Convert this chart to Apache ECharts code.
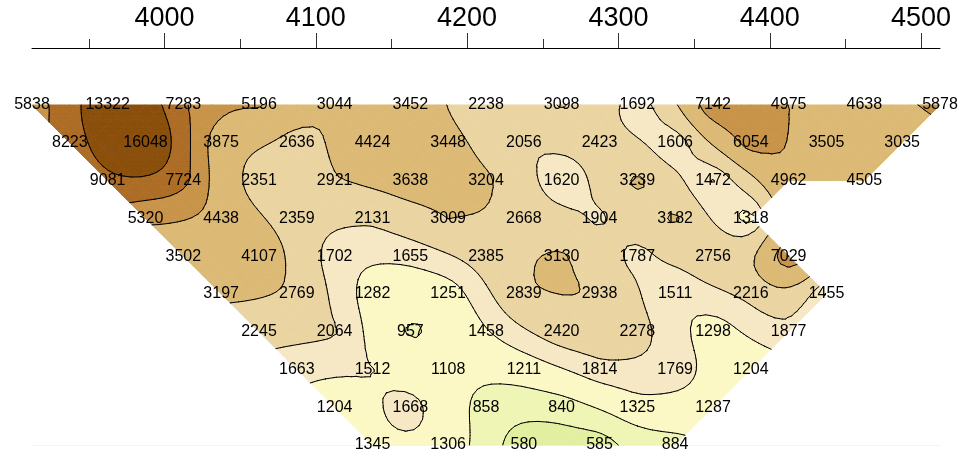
<!DOCTYPE html>
<html>
<head>
<meta charset="utf-8">
<style>
  html, body { margin: 0; padding: 0; background: #fff; }
  #chart { width: 962px; height: 459px; }
</style>
<script src="https://cdn.jsdelivr.net/npm/echarts@6.0.0/dist/echarts.min.js"></script>
</head>
<body>
<div id="chart"></div>
<script>
// first station of each pseudosection row (n = 1..10), stations every 50
const rowStart = [3912.5, 3937.5, 3962.5, 3987.5, 4012.5, 4037.5, 4062.5, 4087.5, 4112.5, 4137.5]
const row1 = [5838, 13322, 7283, 5196, 3044, 3452, 2238, 3098, 1692, 7142, 4975, 4638, 5878]
const row2 = [8223, 16048, 3875, 2636, 4424, 3448, 2056, 2423, 1606, 6054, 3505, 3035]
const row3 = [9081, 7724, 2351, 2921, 3638, 3204, 1620, 3239, 1472, 4962, 4505]
const row4 = [5320, 4438, 2359, 2131, 3009, 2668, 1904, 3182, 1318]
const row5 = [3502, 4107, 1702, 1655, 2385, 3130, 1787, 2756, 7029]
const row6 = [3197, 2769, 1282, 1251, 2839, 2938, 1511, 2216, 1455]
const row7 = [2245, 2064, 957, 1458, 2420, 2278, 1298, 1877]
const row8 = [1663, 1512, 1108, 1211, 1814, 1769, 1204]
const row9 = [1204, 1668, 858, 840, 1325, 1287]
const row10 = [1345, 1306, 580, 585, 884]

const levels = [700, 1000, 1500, 2000, 3000, 5000, 7000, 10000]
const bandColors = ['#e3efa0', '#eff5b5', '#fcf8c5', '#f7e8c5', '#ead5a2', '#dcba76', '#c8944a', '#ad6d26', '#8b4f0c']
const majorTicks = [4000, 4100, 4200, 4300, 4400, 4500]
const minorTicks = [3950, 4050, 4150, 4250, 4350, 4450]

const rows = [row1, row2, row3, row4, row5, row6, row7, row8, row9, row10]
const pt = (r, k) => (k < rows[r].length ? [rowStart[r] + 50 * k, r + 1, rows[r][k]] : null)

const points = []
rows.forEach((vals, r) => vals.forEach((v, k) => points.push(pt(r, k))))

// triangles between neighbouring rows (each row is offset by half a station)
const triangles = []
for (let r = 0; r < rows.length - 1; r++) {
  for (let j = 0; j < rows[r + 1].length; j++) {
    const up = [pt(r, j), pt(r, j + 1), pt(r + 1, j)]
    if (up.every(Boolean)) triangles.push(up.flat())
    const down = [pt(r + 1, j), pt(r + 1, j + 1), pt(r, j + 1)]
    if (down.every(Boolean)) triangles.push(down.flat())
  }
}

// kriging with a linear variogram (log10 values), one row = 25 m of depth
const ROW = 25
const N = points.length
const kx = points.map(p => p[0])
const ky = points.map(p => p[1] * ROW)
const M = []
for (let i = 0; i <= N; i++) {
  const line = []
  for (let j = 0; j < N; j++) line.push(i < N ? Math.hypot(kx[i] - kx[j], ky[i] - ky[j]) : 1)
  line.push(i < N ? 1 : 0)
  line.push(i < N ? Math.log10(points[i][2]) : 0)
  M.push(line)
}
for (let c = 0; c <= N; c++) {
  let piv = c
  for (let r = c + 1; r <= N; r++) if (Math.abs(M[r][c]) > Math.abs(M[piv][c])) piv = r
  const tmp = M[c]; M[c] = M[piv]; M[piv] = tmp
  for (let r = 0; r <= N; r++) {
    if (r === c) continue
    const f = M[r][c] / M[c][c]
    if (!f) continue
    for (let k = c; k <= N + 1; k++) M[r][k] -= f * M[c][k]
  }
}
const weights = M.map((line, i) => line[N + 1] / line[i])

function surface(x, row) {
  let s = weights[N]
  const y = row * ROW
  for (let i = 0; i < N; i++) s += weights[i] * Math.hypot(x - kx[i], y - ky[i])
  return s
}

const logLevels = levels.map(Math.log10)
const bounds = [-Infinity, ...logLevels, Infinity]
const SUB = 8

function subTriangles(api) {
  const v = [0, 1, 2].map(i => [api.value(i * 3), api.value(i * 3 + 1)])
  const grid = []
  for (let i = 0; i <= SUB; i++) {
    grid.push([])
    for (let j = 0; j <= SUB - i; j++) {
      const x = v[0][0] + (v[1][0] - v[0][0]) * i / SUB + (v[2][0] - v[0][0]) * j / SUB
      const y = v[0][1] + (v[1][1] - v[0][1]) * i / SUB + (v[2][1] - v[0][1]) * j / SUB
      const p = api.coord([x, y])
      grid[i].push([p[0], p[1], surface(x, y)])
    }
  }
  const tris = []
  for (let i = 0; i < SUB; i++) {
    for (let j = 0; j < SUB - i; j++) {
      tris.push([grid[i][j], grid[i + 1][j], grid[i][j + 1]])
      if (i + j + 1 < SUB) tris.push([grid[i + 1][j], grid[i + 1][j + 1], grid[i][j + 1]])
    }
  }
  return tris
}

function clip(poly, level, above) {
  const out = []
  for (let i = 0; i < poly.length; i++) {
    const a = poly[i], b = poly[(i + 1) % poly.length]
    const ina = above ? a[2] >= level : a[2] <= level
    const inb = above ? b[2] >= level : b[2] <= level
    if (ina) out.push(a)
    if (ina !== inb) {
      const t = (level - a[2]) / (b[2] - a[2])
      out.push([a[0] + t * (b[0] - a[0]), a[1] + t * (b[1] - a[1]), level])
    }
  }
  return out
}

function renderFill(params, api) {
  const children = []
  subTriangles(api).forEach(tri => {
    for (let b = 0; b < bandColors.length; b++) {
      let poly = clip(tri, bounds[b], true)
      if (poly.length > 2) poly = clip(poly, bounds[b + 1], false)
      if (poly.length < 3) continue
      children.push({
        type: 'polygon',
        shape: { points: poly.map(p => [p[0], p[1]]) },
        style: { fill: bandColors[b], stroke: bandColors[b], lineWidth: 1 }
      })
    }
  })
  return { type: 'group', children }
}

function renderLines(params, api) {
  const children = []
  subTriangles(api).forEach(tri => {
    logLevels.forEach(L => {
      const cut = []
      for (let i = 0; i < 3; i++) {
        const a = tri[i], b = tri[(i + 1) % 3]
        if ((a[2] - L) * (b[2] - L) < 0) {
          const t = (L - a[2]) / (b[2] - a[2])
          cut.push([a[0] + t * (b[0] - a[0]), a[1] + t * (b[1] - a[1])])
        }
      }
      if (cut.length === 2) {
        children.push({
          type: 'line',
          shape: { x1: cut[0][0], y1: cut[0][1], x2: cut[1][0], y2: cut[1][1] },
          style: { stroke: '#000', lineWidth: 1, lineCap: 'round' }
        })
      }
    })
  })
  return { type: 'group', children }
}

const font = '"Liberation Sans", Arial, sans-serif'
const chart = echarts.init(document.getElementById('chart'), null, { renderer: 'canvas' })

chart.setOption({
  animation: false,
  grid: { left: 32, right: 22, top: 105, bottom: 14 },
  xAxis: [
    {
      type: 'value', position: 'top', offset: 57, min: 3912.5, max: 4512.5,
      axisLine: { lineStyle: { color: '#000', width: 1 } },
      axisTick: { customValues: minorTicks, length: 9, lineStyle: { color: '#333' } },
      axisLabel: { show: false },
      splitLine: { show: false }
    },
    {
      type: 'value', position: 'top', offset: 57, min: 3912.5, max: 4512.5,
      axisLine: { show: false },
      axisTick: { show: true, customValues: majorTicks, length: 15, lineStyle: { color: '#333' } },
      axisLabel: {
        customValues: majorTicks, formatter: v => String(v),
        fontSize: 27, color: '#000', fontFamily: font, margin: 16
      },
      splitLine: { show: false }
    },
    {
      type: 'value', position: 'bottom', min: 3912.5, max: 4512.5,
      axisLine: { lineStyle: { color: '#f8f8cc', width: 1 } },
      axisTick: { show: false },
      axisLabel: { show: false },
      splitLine: { show: false }
    }
  ],
  yAxis: { type: 'value', min: 1, max: 10, inverse: true, show: false },
  series: [
    {
      type: 'custom', xAxisIndex: 0, renderItem: renderFill,
      encode: { x: [0, 3, 6], y: [1, 4, 7] },
      data: triangles, z: 1, silent: true
    },
    {
      type: 'custom', xAxisIndex: 0, renderItem: renderLines,
      encode: { x: [0, 3, 6], y: [1, 4, 7] },
      data: triangles, z: 2, silent: true
    },
    {
      type: 'scatter', xAxisIndex: 0, symbolSize: 0, z: 5, silent: true,
      itemStyle: { opacity: 1 },
      data: points,
      label: {
        show: true, position: 'inside', formatter: p => p.value[2],
        color: '#000', fontSize: 16, fontFamily: font
      }
    }
  ]
})
</script>
</body>
</html>
